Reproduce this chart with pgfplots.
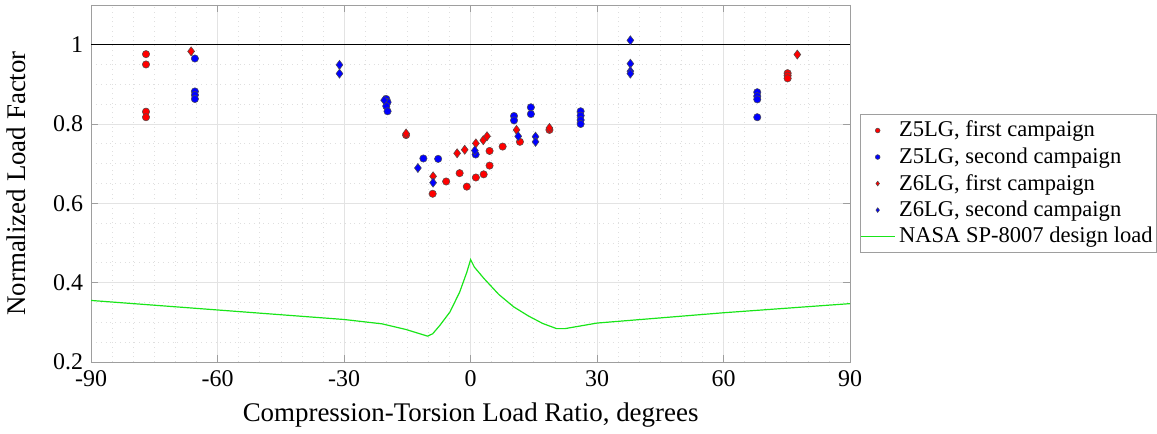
\documentclass[border=0pt]{standalone}
\usepackage{fontspec}
\setmainfont{Liberation Serif}
\usepackage{pgfplots}
\pgfplotsset{compat=1.18}
\definecolor{nasagreen}{rgb}{0.1,0.9,0.1}
\definecolor{axgray}{gray}{0.62}
\begin{document}
\begin{tikzpicture}
\begin{axis}[
  scale only axis,
  width=380.5pt, height=179pt,
  xmin=-90, xmax=90, ymin=0.2, ymax=1.1,
  xtick={-90,-60,...,90},
  ytick={0.2,0.4,0.6,0.8,1},
  minor x tick num=5, minor y tick num=3,
  minor tick length=0pt,
  major tick length=3.5pt,
  tick align=inside,
  grid=both,
  major grid style={gray!22, line width=0.4pt},
  minor grid style={gray!25, dotted, line width=0.35pt},
  axis line style={axgray},
  tick style={axgray},
  /pgf/number format/assume math mode=true,
  xticklabel={\pgfmathprintnumber{\tick}},
  yticklabel={\pgfmathprintnumber{\tick}},
  ticklabel style={font=\fontsize{12}{13}\selectfont},
  xticklabel style={yshift=-1pt},
  yticklabel style={xshift=-0.5pt},
  xlabel={Compression-Torsion Load Ratio, degrees},
  ylabel={Normalized Load Factor},
  label style={font=\fontsize{13.5}{15}\selectfont},
  xlabel style={yshift=-1pt},
  ylabel style={yshift=7pt},
  legend style={at={(1.013,0.5)}, anchor=west, draw=axgray,
    font=\fontsize{11.3}{13}\selectfont, row sep=-0.1pt,
    inner xsep=0pt, inner ysep=1.5pt},
  legend cell align=left,
  legend image post style={mark size=1.2pt, line width=0.4pt},
]
\addplot[black, line width=0.6pt, forget plot] coordinates {(-90,1) (90,1)};

\addplot[only marks, mark=*, mark size=1.85pt,
  mark options={fill=red, draw=black!70, line width=0.25pt}] coordinates {
  (-77,0.976) (-77,0.950) (-77,0.831) (-77,0.817)
  (-15.3,0.772) (-9.0,0.624) (-5.8,0.655) (-2.6,0.676) (-0.9,0.642)
  (1.25,0.665) (3.1,0.673) (4.5,0.695) (4.5,0.732) (7.6,0.743)
  (11.7,0.755) (18.7,0.785) (75.2,0.928) (75.2,0.922) (75.2,0.915)
};
\addlegendentry{Z5LG, first campaign}

\addplot[only marks, mark=*, mark size=1.85pt,
  mark options={fill=blue, draw=black!70, line width=0.25pt}] coordinates {
  (-65.4,0.965) (-65.4,0.882) (-65.4,0.873) (-65.4,0.863)
  (-20.0,0.863) (-19.7,0.855) (-20.0,0.845) (-19.7,0.832)
  (-11.2,0.713) (-7.7,0.712) (1.2,0.723) (10.3,0.820) (10.3,0.809)
  (14.3,0.842) (14.3,0.825) (26.1,0.832) (26.1,0.821) (26.1,0.810)
  (26.1,0.800) (68,0.880) (68,0.870) (68,0.862) (68,0.817)
};
\addlegendentry{Z5LG, second campaign}

\addplot[only marks, mark=diamond*, mark size=2.3pt,
  mark options={fill=red, draw=black!70, line width=0.25pt}] coordinates {
  (-66.3,0.983) (-15.3,0.776) (-8.9,0.668) (-3.2,0.726) (-1.4,0.735)
  (1.25,0.751) (3.0,0.759) (3.9,0.769) (10.9,0.785) (18.7,0.790)
  (77.5,0.975)
};
\addlegendentry{Z6LG, first campaign}

\addplot[only marks, mark=diamond*, mark size=2.3pt,
  mark options={fill=blue, draw=black!70, line width=0.25pt}] coordinates {
  (-31.1,0.949) (-31.1,0.927) (-20.5,0.860) (-12.5,0.689) (-8.9,0.652)
  (1.0,0.733) (11.3,0.769) (15.4,0.768) (15.4,0.755)
  (37.9,1.011) (37.9,0.952) (37.9,0.933) (37.9,0.927)
};
\addlegendentry{Z6LG, second campaign}

\addplot[nasagreen, line width=0.6pt, mark=none] coordinates {
  (-90,0.355) (-60,0.331) (-30,0.307) (-21,0.296) (-15.4,0.282)
  (-10.2,0.265) (-9.0,0.271) (-7.3,0.292) (-4.9,0.326) (-2.6,0.376)
  (-0.9,0.426) (0,0.458) (0.9,0.439) (3.2,0.410) (6.7,0.370)
  (10.2,0.339) (13.7,0.316) (17.1,0.297) (20.4,0.284) (22.4,0.284)
  (30,0.298) (60,0.324) (90,0.347)
};
\addlegendentry{NASA SP-8007 design load}
\end{axis}
\path (current axis.north) ++(0,2.5pt);
\end{tikzpicture}
\end{document}
